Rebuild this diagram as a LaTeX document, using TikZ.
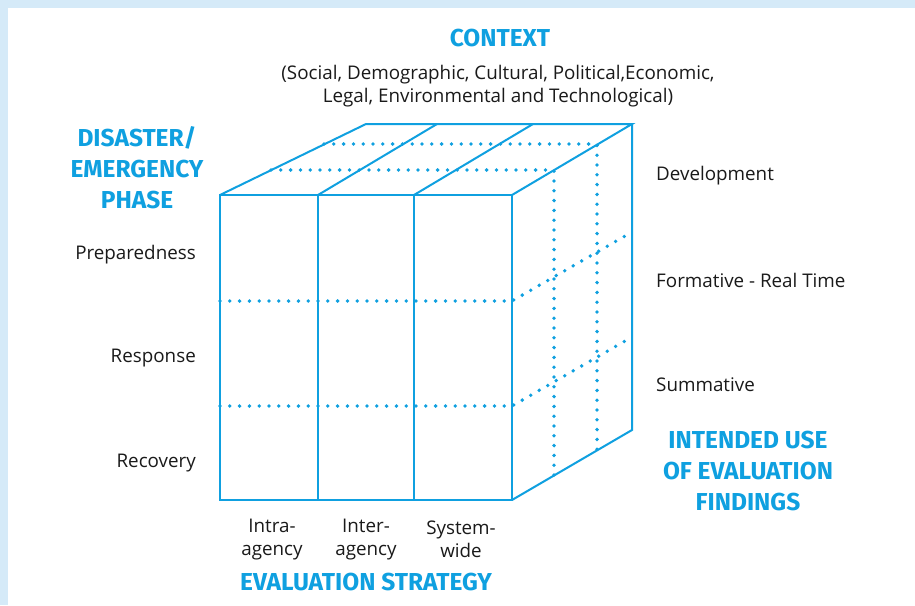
\documentclass[tikz,border=0pt]{standalone}
\usepackage{fontspec}
\setmainfont{Open Sans}
\newfontfamily\headfont{Fira Sans}
\definecolor{bandblue}{HTML}{D5EAF8}
\definecolor{cubeblue}{HTML}{0FA0E0}
\definecolor{txtblack}{HTML}{1A1A1A}
\tikzset{
  edge/.style={draw=cubeblue, line width=2pt, line join=miter},
  dotline/.style={draw=cubeblue, line width=3.8pt, line cap=round, dash pattern=on 0pt off 9.8pt},
  head/.style={font=\headfont\bfseries\fontsize{24.5}{31}\selectfont, text=cubeblue, align=center, inner sep=0pt},
  lbl/.style={font=\fontsize{18.8}{23}\selectfont, text=txtblack, inner sep=0pt},
}
\begin{document}
\begin{tikzpicture}[x=1pt,y=-1pt]
\useasboundingbox (0,0) rectangle (915,605);
\fill[bandblue] (0,0) rectangle (915,605);
\fill[white] (8,8) rectangle (915,605);
% cube coordinates
\coordinate (FTL) at (220,195);
\coordinate (FT1) at (318,195);
\coordinate (FT2) at (414,195);
\coordinate (FTR) at (512,195);
\coordinate (FBL) at (220,500);
\coordinate (FB1) at (318,500);
\coordinate (FB2) at (414,500);
\coordinate (FBR) at (512,500);
\coordinate (BTL) at (366,124);
\coordinate (BT1) at (437,124);
\coordinate (BT2) at (533,124);
\coordinate (BTR) at (632,124);
\coordinate (BBR) at (632,430);
\coordinate (FL1) at (220,301);
\coordinate (FL2) at (220,406);
\coordinate (FR1) at (512,301);
\coordinate (FR2) at (512,406);
\coordinate (BR1) at (632,232);
\coordinate (BR2) at (632,337);
\coordinate (TD1) at (271,170);
\coordinate (TD2) at (324,144);
\coordinate (TE1) at (554,170);
\coordinate (TE2) at (597,144);
\coordinate (BE1) at (554,475.5);
\coordinate (BE2) at (597,450.4);
% dotted lines
\draw[dotline] (FL1) -- (FR1) -- (BR1);
\draw[dotline] (FL2) -- (FR2) -- (BR2);
\draw[dotline] (TD1) -- (TE1) -- (BE1);
\draw[dotline] (TD2) -- (TE2) -- (BE2);
% solid edges
\draw[edge] (FTL) rectangle (FBR);
\draw[edge] (FT1) -- (FB1);
\draw[edge] (FT2) -- (FB2);
\draw[edge] (FTL) -- (BTL) -- (BTR) -- (FTR);
\draw[edge] (FT1) -- (BT1);
\draw[edge] (FT2) -- (BT2);
\draw[edge] (BTR) -- (BBR) -- (FBR);
% texts
\node[head] (context) at (500,38) {CONTEXT};
\node[lbl, align=center] (contextsub) at (498,86.5) {(Social, Demographic, Cultural, Political,Economic,\\Legal, Environmental and Technological)};
\node[head] (phase) at (137,168) {DISASTER/\\EMERGENCY\\PHASE};
\node[lbl, anchor=east] (prep) at (196,254.5) {Preparedness};
\node[lbl, anchor=east] (resp) at (196,358.5) {Response};
\node[lbl, anchor=east] (reco) at (196,463.5) {Recovery};
\node[lbl, anchor=west] (dev) at (656,175.5) {Development};
\node[lbl, anchor=west] (form) at (656,280.5) {Formative - Real Time};
\node[lbl, anchor=west] (summ) at (656,384.5) {Summative};
\node[head] (use) at (748,471) {INTENDED USE\\OF EVALUATION\\FINDINGS};
\node[lbl, align=center] (intra) at (272,539.5) {Intra-\\agency};
\node[lbl, align=center] (inter) at (366,539.5) {Inter-\\agency};
\node[lbl, align=center] (sys) at (461,539.5) {System-\\wide};
\node[head] (strategy) at (366,582) {EVALUATION STRATEGY};
\end{tikzpicture}
\end{document}
